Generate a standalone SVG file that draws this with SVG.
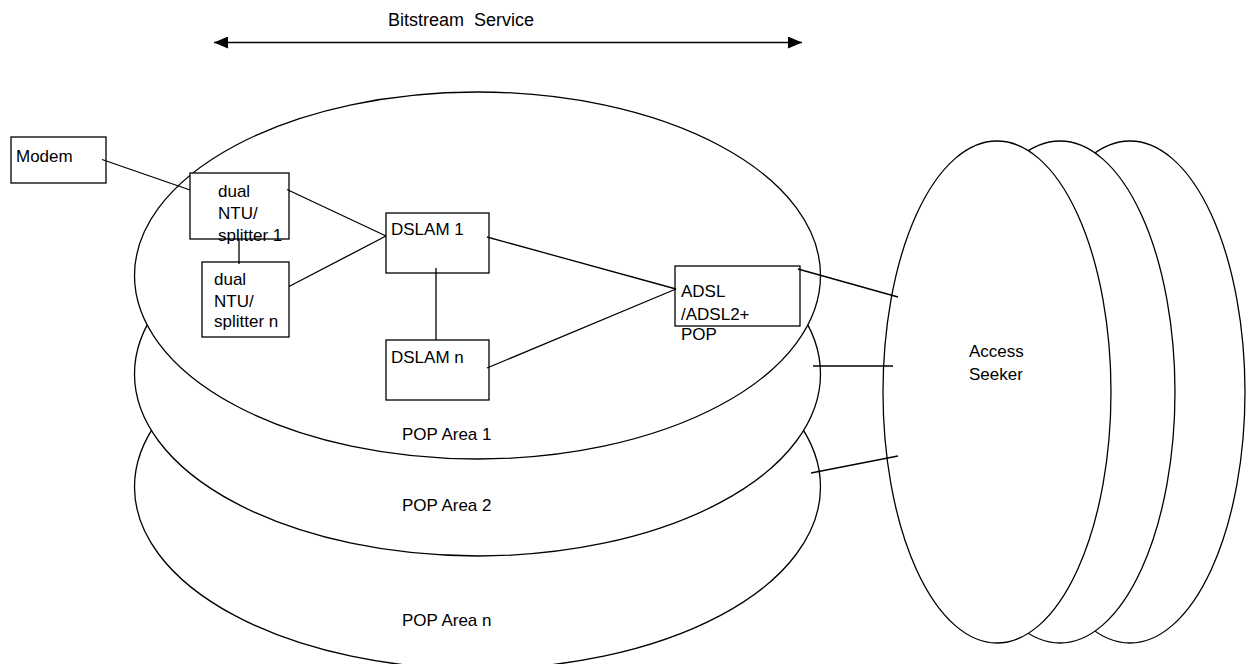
<svg xmlns="http://www.w3.org/2000/svg" width="1253" height="664" viewBox="0 0 1253 664">
<style>
  .shape { fill: #ffffff; stroke: #000000; stroke-width: 1.3; }
  .line { fill: none; stroke: #000000; stroke-width: 1.3; }
  text { font-family: "Liberation Sans", Arial, sans-serif; font-size: 17px; fill: #000000; }
  .title { font-size: 18px; white-space: pre; }
</style>
<defs>
  <marker id="arrowEnd" viewBox="0 0 14 12" refX="14" refY="6" markerWidth="14" markerHeight="12" markerUnits="userSpaceOnUse" orient="auto">
    <path d="M0,0 L14,6 L0,12 Z" fill="#000000"/>
  </marker>
  <marker id="arrowStart" viewBox="0 0 14 12" refX="0" refY="6" markerWidth="14" markerHeight="12" markerUnits="userSpaceOnUse" orient="auto">
    <path d="M14,0 L0,6 L14,12 Z" fill="#000000"/>
  </marker>
</defs>
<rect width="1253" height="664" fill="#ffffff"/>

<g id="pop-area-n">
  <ellipse class="shape" cx="477.5" cy="487" rx="343" ry="182"/>
  <text x="402" y="626">POP Area n</text>
</g>
<g id="pop-area-2">
  <ellipse class="shape" cx="477.5" cy="374" rx="343" ry="182"/>
  <text x="402" y="511">POP Area 2</text>
</g>
<g id="pop-area-1">
  <ellipse class="shape" cx="477.5" cy="275.5" rx="343" ry="183.5"/>
  <text x="402" y="440">POP Area 1</text>
</g>

<g id="access-seeker">
  <ellipse class="shape" cx="1130" cy="392" rx="115" ry="251"/>
  <ellipse class="shape" cx="1060" cy="392" rx="115" ry="251"/>
  <ellipse class="shape" cx="997" cy="392" rx="114" ry="251"/>
  <text x="969" y="357">Access</text>
  <text x="969" y="380">Seeker</text>
</g>

<g id="modem">
  <rect class="shape" x="11" y="137" width="95" height="46"/>
  <text x="16" y="162">Modem</text>
</g>
<g id="splitter-1">
  <rect class="shape" x="190" y="173" width="99" height="66"/>
  <text x="218" y="197">dual</text>
  <text x="218" y="219">NTU/</text>
  <text x="218" y="241">splitter 1</text>
</g>
<g id="splitter-n">
  <rect class="shape" x="202" y="262" width="87" height="75"/>
  <text x="214" y="285">dual</text>
  <text x="214" y="307">NTU/</text>
  <text x="214" y="327">splitter n</text>
</g>
<g id="dslam-1">
  <rect class="shape" x="386" y="213" width="103" height="60"/>
  <text x="391" y="235">DSLAM 1</text>
</g>
<g id="dslam-n">
  <rect class="shape" x="386" y="340" width="103" height="60"/>
  <text x="391" y="363">DSLAM n</text>
</g>
<g id="adsl-pop">
  <rect class="shape" x="675" y="266" width="125" height="60"/>
  <text x="681" y="297">ADSL</text>
  <text x="681" y="320">/ADSL2+</text>
  <text x="681" y="340">POP</text>
</g>

<g id="bitstream-service">
  <text class="title" x="388" y="26">Bitstream&#160; Service</text>
</g>

<g id="connectors">
  <line class="line" x1="214" y1="42.5" x2="802" y2="42.5" marker-start="url(#arrowStart)" marker-end="url(#arrowEnd)"/>
  <line class="line" x1="102" y1="159.5" x2="190" y2="190"/>
  <line class="line" x1="239" y1="239" x2="239" y2="264"/>
  <line class="line" x1="287" y1="189.5" x2="386" y2="236"/>
  <line class="line" x1="289" y1="286.5" x2="386" y2="236"/>
  <line class="line" x1="436" y1="268" x2="436" y2="340"/>
  <line class="line" x1="487" y1="237" x2="676" y2="289"/>
  <line class="line" x1="487" y1="368" x2="676" y2="289"/>
  <line class="line" x1="798" y1="269" x2="898" y2="297"/>
  <line class="line" x1="813" y1="366" x2="893" y2="366"/>
  <line class="line" x1="811" y1="473" x2="898" y2="456"/>
</g>
</svg>
